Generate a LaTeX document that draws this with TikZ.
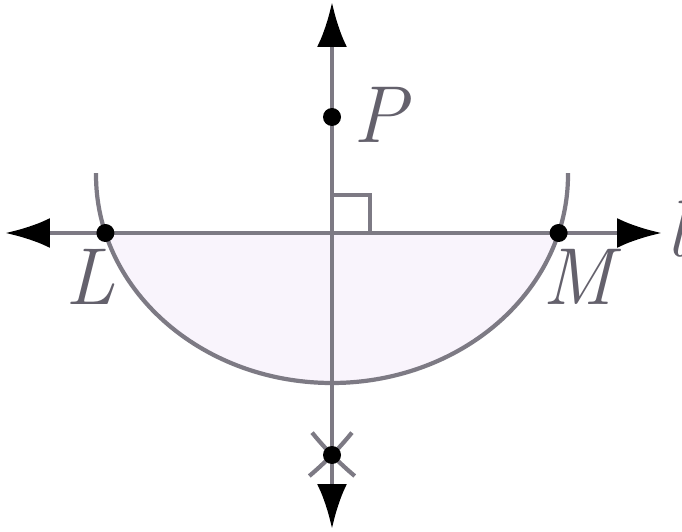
\documentclass[tikz,border=0pt]{standalone}
\usetikzlibrary{arrows.meta,calc}
\definecolor{ConLine}{RGB}{125,122,132}
\definecolor{ConText}{RGB}{100,97,108}
\definecolor{ConFill}{RGB}{249,244,252}
\tikzset{
  con/line/.style={draw=ConLine, line width=2.6pt},
  con/ray/.style={
    con/line,
    {Latex[length=0.9cm,width=0.6cm,color=black]}-{Latex[length=0.9cm,width=0.6cm,color=black]}
  },
  con/arc/.style={draw=ConLine, line width=2.4pt},
  con/mark/.style={draw=ConLine, line width=2.2pt},
  con/dot/.style={circle, fill=black, inner sep=0pt, minimum size=0.36cm},
  con/label/.style={text=ConText, font=\fontsize{46}{50}\selectfont\itshape}
}
\begin{document}
\begin{tikzpicture}[x=0.02cm,y=0.02cm]
  \useasboundingbox (0,0) rectangle (682,531);
  % points of the construction
  \coordinate (O) at (332,298);
  \coordinate (C) at (332,356);
  \coordinate (L) at (105.4,298);
  \coordinate (M) at (558.6,298);
  \coordinate (P) at (332,414);
  \coordinate (Q) at (332,76);
  \coordinate (lw) at (5,298);
  \coordinate (le) at (662,298);
  \coordinate (top) at (332,529);
  \coordinate (bot) at (332,2);
  % shaded part under l
  \fill[ConFill] (L) arc[start angle=196.2, end angle=343.8, x radius=236, y radius=208] -- cycle;
  \draw[con/arc] ([shift={(179.5:236 and 208)}]C) arc[start angle=179.5, end angle=360.5, x radius=236, y radius=208];
  \draw[con/arc] ([shift={(-50:317.2)}]L) arc[start angle=-50, end angle=-39, radius=317.2];
  \draw[con/arc] ([shift={(219:317.2)}]M) arc[start angle=219, end angle=230, radius=317.2];
  \draw[con/mark] ($(O)+(0,38)$) -| ($(O)+(38,0)$);
  \draw[con/ray] (lw) -- (le);
  \draw[con/ray] (bot) -- (top);
  \node[con/dot] (Ldot) at (L) {};
  \node[con/dot] (Mdot) at (M) {};
  \node[con/dot] (Pdot) at (P) {};
  \node[con/dot] (Qdot) at (Q) {};
  \node[con/label] (Plab) at (380,416) {P};
  \node[con/label] (Llab) at (90,254) {L};
  \node[con/label] (Mlab) at (578,254) {M};
  \node[con/label, anchor=west, inner sep=0pt] (llab) at (666,302) {l};
\end{tikzpicture}
\end{document}
